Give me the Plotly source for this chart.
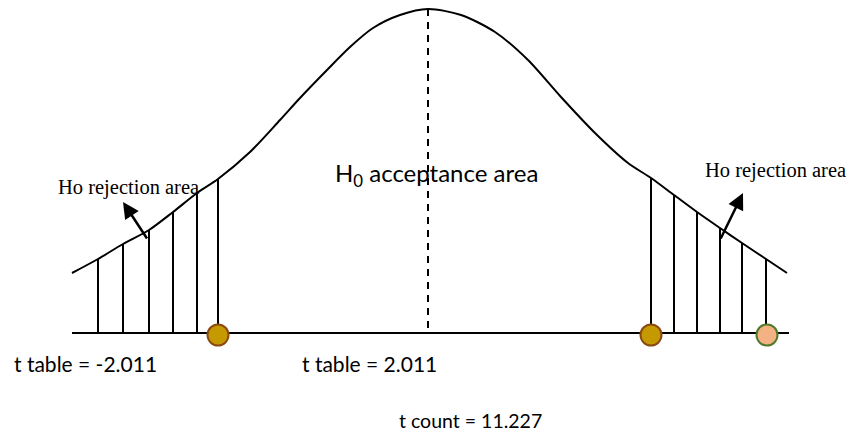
import plotly.graph_objects as go

# bell curve (screen pixels, y grows downward)
curve_x = [72, 98, 123, 149, 173, 197, 218, 250, 280, 300, 327, 350, 373, 400, 428,
           461, 495, 528, 561, 595, 628, 651, 674, 697, 720, 742, 766, 787]
curve_y = [273, 259, 244, 230, 212, 193, 179, 152, 120, 98, 70, 47, 28, 15, 9,
           15, 32, 60, 97, 133, 163, 178, 195, 212, 228, 243, 259, 273]

# rejection hatching
left_hatch_x = [98, 123, 149, 173, 197, 218]
left_hatch_top = [259, 244, 230, 212, 193, 179]
right_hatch_x = [651, 674, 697, 720, 742, 766]
right_hatch_top = [178, 195, 212, 228, 243, 259]

base_y = 333
base_x = [72, 789]
center_x = 428
peak_y = 9

# points on the baseline: t table left, t table right, t count
point_x = [218, 651, 767]
point_fill = ["#C59A00", "#C59A00", "#F4B183"]
point_edge = ["#8B4A12", "#8B4A12", "#4E7A2A"]

bottom_labels = ["t table = -2.011", "t table = 2.011", "t count = 11.227"]
reject_label = "Ho rejection area"
accept_label = "H<sub>0</sub> acceptance area"

fig = go.Figure()

fig.add_trace(go.Scatter(x=curve_x, y=curve_y, mode="lines",
                         line=dict(color="black", width=2, shape="spline", smoothing=0.8),
                         hoverinfo="skip"))

fig.add_trace(go.Scatter(x=base_x, y=[base_y, base_y], mode="lines",
                         line=dict(color="black", width=2), hoverinfo="skip"))

# vertical hatch lines
hx, hy = [], []
for x, top in zip(left_hatch_x + right_hatch_x, left_hatch_top + right_hatch_top):
    hx += [x, x, None]
    hy += [top, base_y, None]
fig.add_trace(go.Scatter(x=hx, y=hy, mode="lines",
                         line=dict(color="black", width=2), hoverinfo="skip"))

# dashed center line
fig.add_trace(go.Scatter(x=[center_x, center_x], y=[peak_y, base_y], mode="lines",
                         line=dict(color="black", width=2, dash="7px,6px"), hoverinfo="skip"))

fig.add_trace(go.Scatter(x=point_x, y=[base_y + 2] * len(point_x), mode="markers",
                         marker=dict(size=21, color=point_fill,
                                     line=dict(color=point_edge, width=2)),
                         hoverinfo="skip"))

serif = dict(family="Liberation Serif, Times New Roman, serif", size=20.5, color="black")
sans = dict(family="Lato, Noto Sans, sans-serif", size=21, color="black")

# rejection labels and arrows
fig.add_annotation(x=56, y=187, text=reject_label, showarrow=False,
                   xanchor="left", yanchor="middle", font=serif)
fig.add_annotation(x=703, y=170, text=reject_label, showarrow=False,
                   xanchor="left", yanchor="middle", font=serif)
fig.add_annotation(x=123, y=202, ax=148, ay=240, axref="x", ayref="y",
                   xref="x", yref="y", text="", showarrow=True,
                   arrowhead=2, arrowsize=1.3, arrowwidth=2.5, arrowcolor="black")
fig.add_annotation(x=743, y=193, ax=720, ay=240, axref="x", ayref="y",
                   xref="x", yref="y", text="", showarrow=True,
                   arrowhead=2, arrowsize=1.3, arrowwidth=2.5, arrowcolor="black")

fig.add_annotation(x=436, y=174, text=accept_label, showarrow=False,
                   xanchor="center", yanchor="middle",
                   font=dict(family="Lato, Noto Sans, sans-serif", size=24, color="black"))

fig.add_annotation(x=12, y=363, text=bottom_labels[0], showarrow=False,
                   xanchor="left", yanchor="middle", font=sans)
fig.add_annotation(x=300, y=363, text=bottom_labels[1], showarrow=False,
                   xanchor="left", yanchor="middle", font=sans)
fig.add_annotation(x=397, y=420, text=bottom_labels[2], showarrow=False,
                   xanchor="left", yanchor="middle",
                   font=dict(family="Lato, Noto Sans, sans-serif", size=19.5, color="black"))

fig.update_xaxes(range=[0, 849], visible=False, fixedrange=True)
fig.update_yaxes(range=[433, 0], visible=False, fixedrange=True)
fig.update_layout(width=849, height=433, margin=dict(l=0, r=0, t=0, b=0),
                  plot_bgcolor="white", paper_bgcolor="white", showlegend=False)

# drop the page's default body margin so the figure sits at the window's corner
fig.write_html("out.html", config={"displayModeBar": False},
               post_script="document.body.style.margin='0';")
